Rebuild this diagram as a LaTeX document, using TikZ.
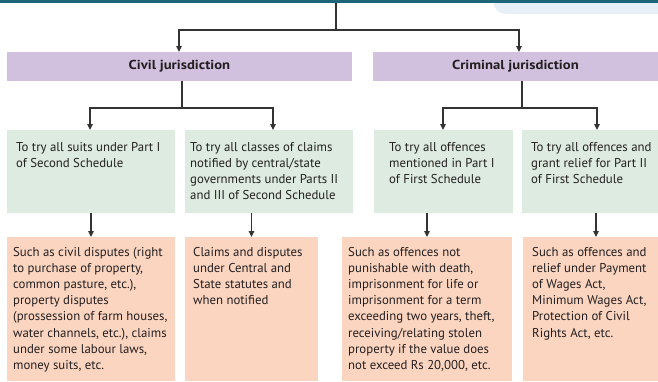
\documentclass[tikz,border=0pt]{standalone}
\usepackage{fontspec}
\setmainfont{PT Sans}
\newfontfamily\titlefont[FakeStretch=1.13]{PT Sans}
\usetikzlibrary{arrows.meta}
\definecolor{teal}{HTML}{1D6579}
\definecolor{lightblue}{HTML}{E7F0F7}
\definecolor{purplebox}{HTML}{D1C1DF}
\definecolor{greenbox}{HTML}{DDEBE0}
\definecolor{orangebox}{HTML}{FBD5C0}
\definecolor{linegray}{HTML}{333333}
\definecolor{textgray}{HTML}{231F20}
\tikzset{
  box/.style={inner sep=0pt, outer sep=0pt, anchor=north west},
  headbox/.style={box, fill=purplebox, minimum height=29pt, font=\titlefont\bfseries\fontsize{13}{15}\selectfont, text=textgray},
  gbox/.style={box, fill=greenbox, minimum height=83pt},
  obox/.style={box, fill=orangebox, minimum height=144pt},
  txt/.style={inner sep=0pt, anchor=base west, align=left, text=textgray, font=\fontsize{12.8}{16.2}\selectfont},
  ln/.style={draw=linegray, line width=1.2pt},
  arr/.style={ln, -{Triangle[length=6pt,width=5.5pt]}},
}
\begin{document}
\begin{tikzpicture}[x=1pt,y=-1pt]
\useasboundingbox (0,0) rectangle (658,381);
\fill[lightblue] (670,0) -- (670,14) [rounded corners=13pt] -- (493,14) [sharp corners] -- (493,0) -- cycle;
\node[box, fill=teal, minimum width=658pt, minimum height=3pt] (topbar) at (0,0) {};
% headers
\node[headbox, minimum width=345pt] (civil) at (7,52) {Civil jurisdiction};
\node[headbox, minimum width=285pt] (crim) at (373,52) {Criminal jurisdiction};
% green boxes
\node[gbox, minimum width=168pt] (g1) at (7,130) {};
\node[gbox, minimum width=168pt] (g2) at (185,130) {};
\node[gbox, minimum width=139pt] (g3) at (374,130) {};
\node[gbox, minimum width=136pt] (g4) at (522,130) {};
% orange boxes
\node[obox, minimum width=168pt] (o1) at (7,237) {};
\node[obox, minimum width=133pt] (o2) at (185,237) {};
\node[obox, minimum width=170pt] (o3) at (342,237) {};
\node[obox, minimum width=135pt] (o4) at (523,237) {};
% texts (anchor = baseline of last line)
\node[txt] (tg1) at (16,167.2) {To try all suits under Part I\\of Second Schedule};
\node[txt] (tg2) at (190,199.6) {To try all classes of claims\\notified by central/state\\governments under Parts II\\and III of Second Schedule};
\node[txt] (tg3) at (389,183.4) {To try all offences\\mentioned in Part I\\of First Schedule};
\node[txt] (tg4) at (531,183.4) {To try all offences and\\grant relief for Part II\\of First Schedule};
\node[txt] (to1) at (13,369.4) {Such as civil disputes (right\\to purchase of property,\\common pasture, etc.),\\property disputes\\(prossession of farm houses,\\water channels, etc.), claims\\under some labour laws,\\money suits, etc.};
\node[txt] (to2) at (193,304.6) {Claims and disputes\\under Central and\\State statutes and\\when notified};
\node[txt] (to3) at (348,369.4) {Such as offences not\\punishable with death,\\imprisonment for life or\\imprisonment for a term\\exceeding two years, theft,\\receiving/relating stolen\\property if the value does\\not exceed Rs 20,000, etc.};
\node[txt] (to4) at (532,337) {Such as offences and\\relief under Payment\\of Wages Act,\\Minimum Wages Act,\\Protection of Civil\\Rights Act, etc.};
% connectors
\coordinate (t0) at (336,3);
\coordinate (t1) at (336,30);
\draw[ln] (t0) -- (t1);
\draw[arr] (t1) -| ([xshift=-0.5pt]civil.north);
\draw[arr] (t1) -| ([xshift=3.5pt]crim.north);
\coordinate (c1) at (182,108);
\draw[ln] ([xshift=2.5pt]civil.south) -- (c1);
\draw[arr] (c1) -| ([xshift=-1pt]g1.north);
\draw[arr] (c1) -| ([xshift=4pt]g2.north);
\coordinate (c2) at (522,108);
\draw[ln] ([xshift=6.5pt]crim.south) -- (c2);
\draw[arr] (c2) -| ([xshift=-0.5pt]g3.north);
\draw[arr] (c2) -| ([xshift=7pt]g4.north);
\draw[arr] (g1.south) -- (o1.north);
\draw[arr] (o2.north |- g2.south) -- (o2.north);
\draw[arr] (o3.north |- g3.south) -- (o3.north);
\draw[arr] ([xshift=5.5pt]o4.north |- g4.south) -- ([xshift=5.5pt]o4.north);
\end{tikzpicture}
\end{document}
